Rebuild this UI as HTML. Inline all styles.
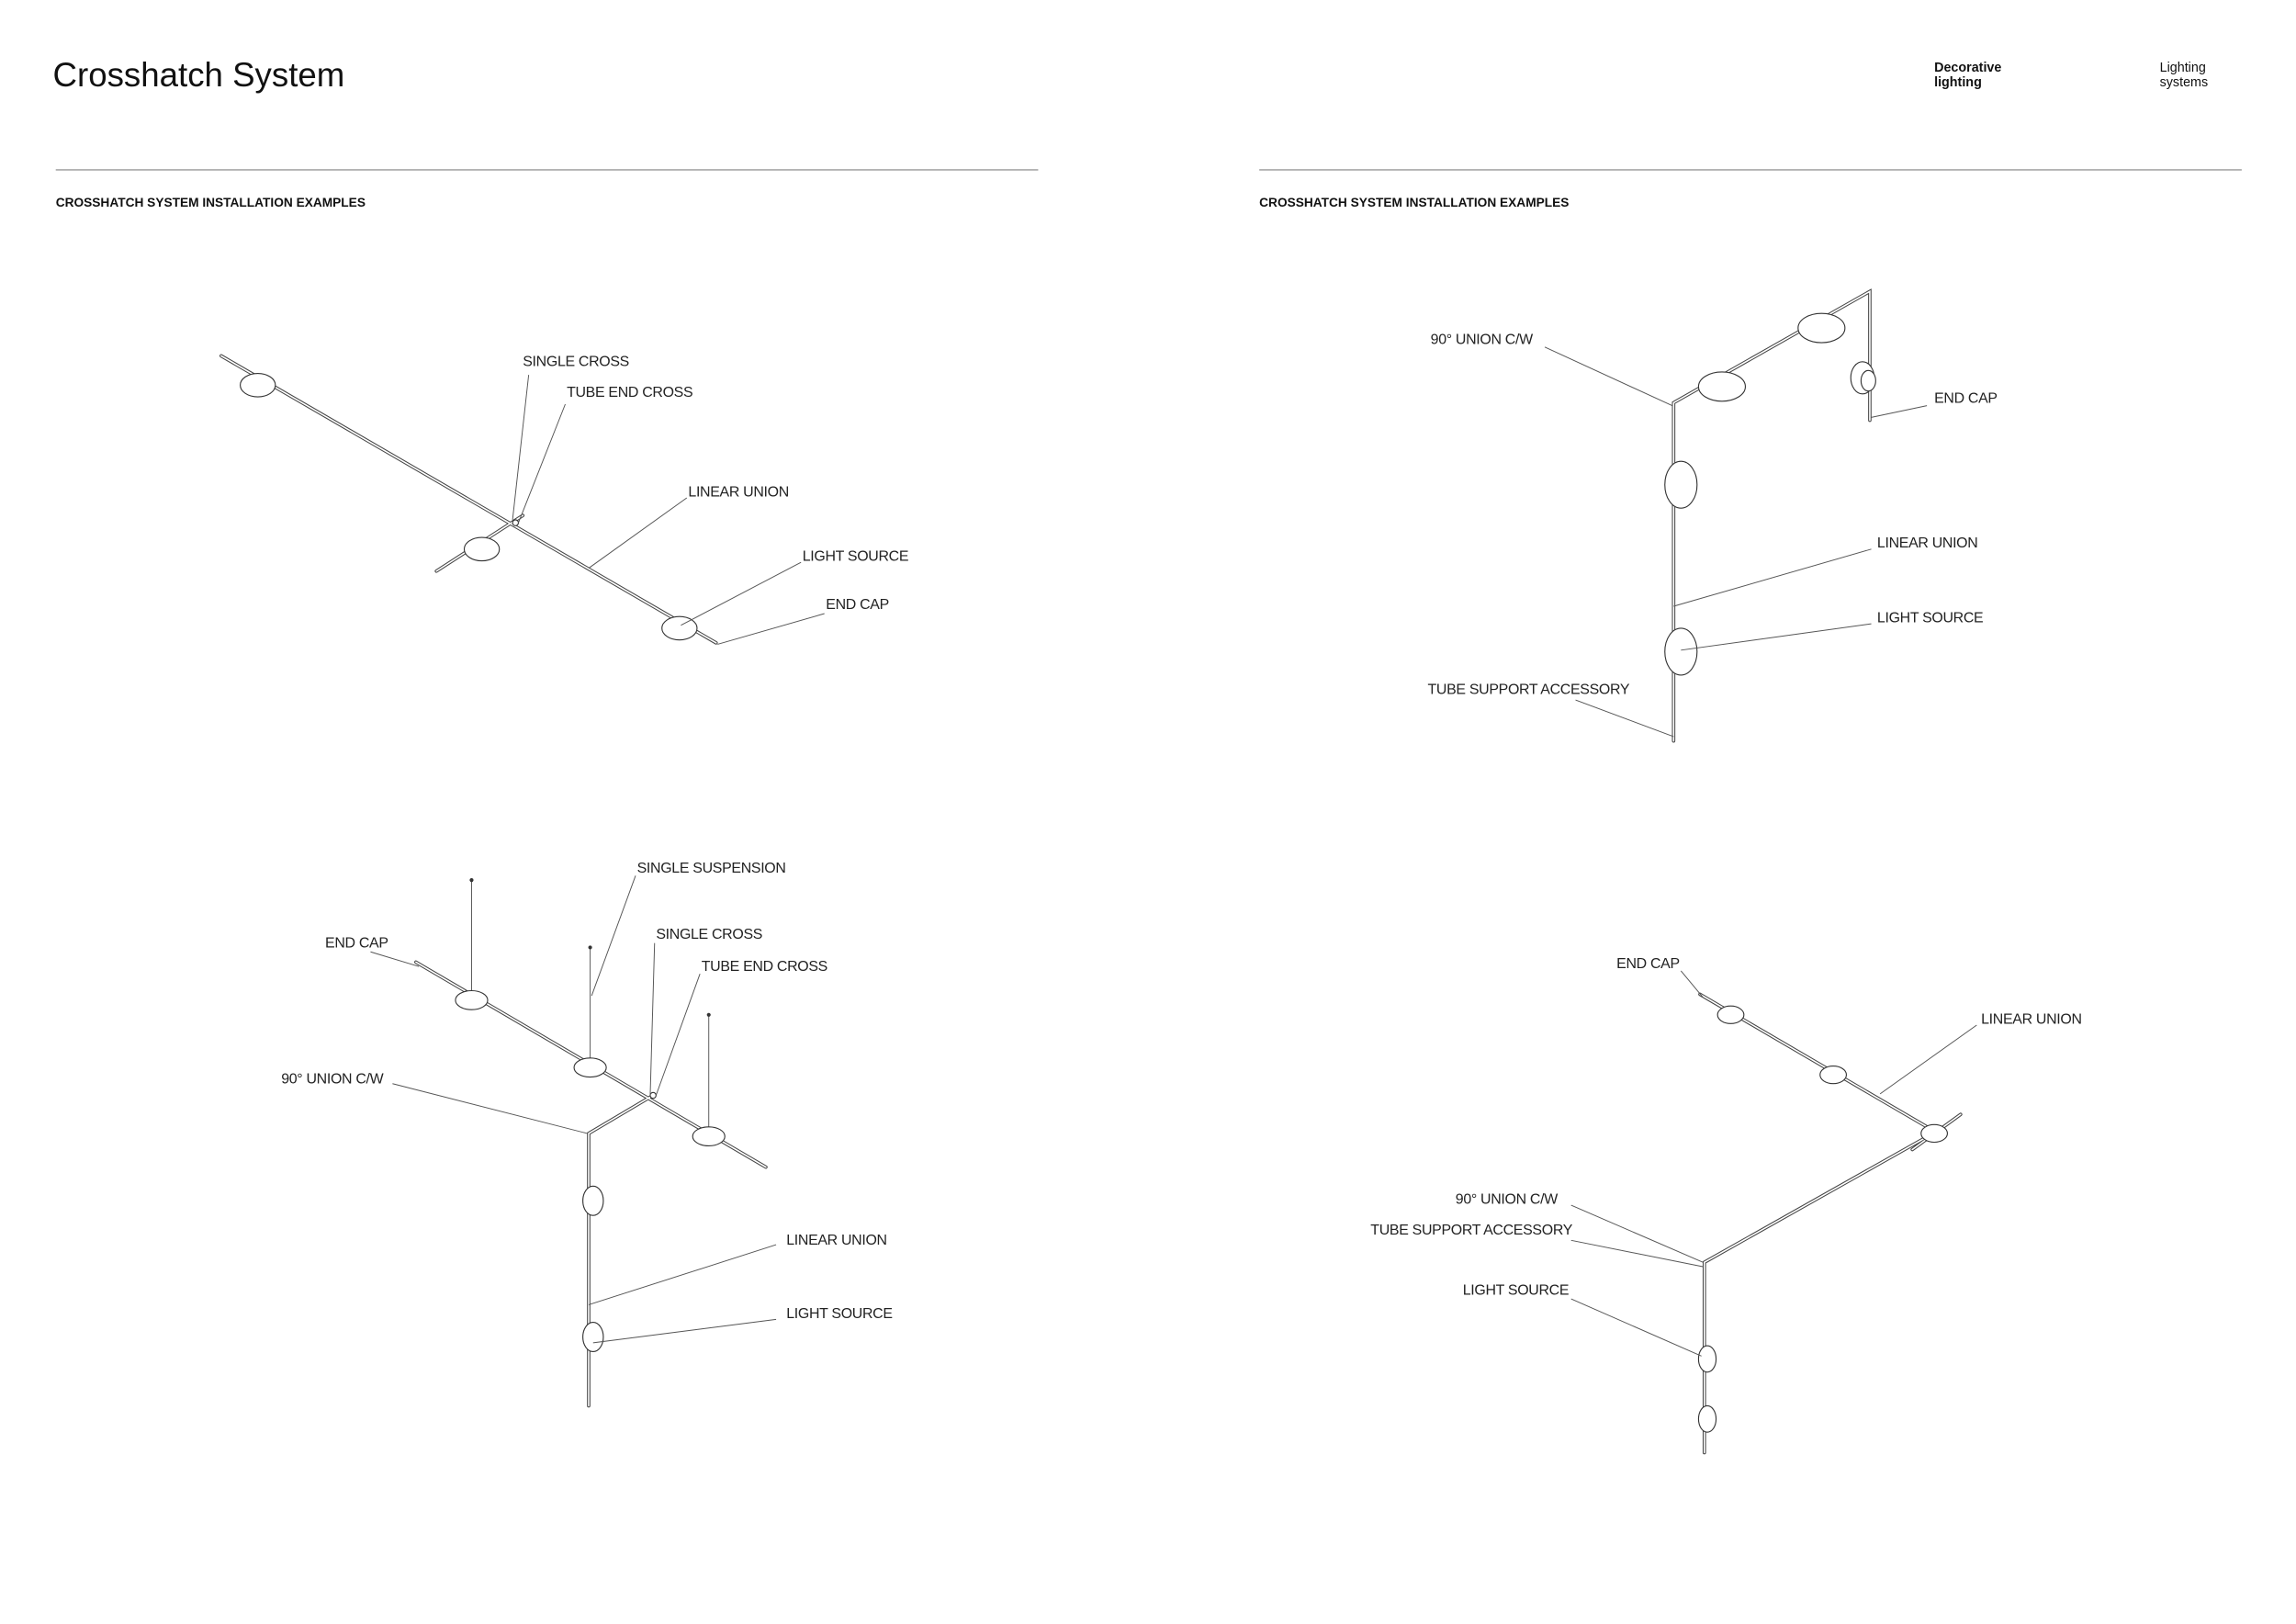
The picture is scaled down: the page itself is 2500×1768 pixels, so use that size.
<!DOCTYPE html>
<html><head><meta charset="utf-8"><style>
html,body{margin:0;padding:0;background:#fff;}
svg{display:block;}
text{font-family:"Liberation Sans",sans-serif;fill:#111;}
.l{font-size:10px;letter-spacing:-0.2px;fill:#222;}
.t{fill:none;stroke:#444;stroke-width:2.3;stroke-linecap:round;}
.ti{fill:none;stroke:#fff;stroke-width:1.0;stroke-linecap:round;}
.ld{fill:none;stroke:#555;stroke-width:0.6;}
.e{fill:#fff;stroke:#333;stroke-width:0.7;}
</style></head><body>
<svg width="2500" height="1768" viewBox="0 0 1568 1109" xmlns="http://www.w3.org/2000/svg">
<rect width="1568" height="1109" fill="#fff"/>
<text x="36" y="59" font-size="23" fill="#222">Crosshatch System</text>
<text x="1321" y="49" font-size="9" font-weight="bold">Decorative</text>
<text x="1321" y="59" font-size="9" font-weight="bold">lighting</text>
<text x="1475" y="49" font-size="9">Lighting</text>
<text x="1475" y="59" font-size="9">systems</text>
<line x1="38" y1="116" x2="709" y2="116" stroke="#999" stroke-width="0.9"/>
<line x1="860" y1="116" x2="1531" y2="116" stroke="#999" stroke-width="0.9"/>
<text x="38" y="141" font-size="8.6" font-weight="bold">CROSSHATCH SYSTEM INSTALLATION EXAMPLES</text>
<text x="860" y="141" font-size="8.6" font-weight="bold">CROSSHATCH SYSTEM INSTALLATION EXAMPLES</text>

<!-- Diagram 1 -->
<g>
<path class="t" d="M151 243 L489 439 M298 390 L357 352"/>
<path class="ti" d="M151 243 L489 439 M298 390 L357 352"/>
<ellipse class="e" cx="176" cy="263" rx="12" ry="8"/>
<ellipse class="e" cx="329" cy="375" rx="12" ry="8"/>
<ellipse class="e" cx="464" cy="429" rx="12" ry="8"/>
<circle class="e" cx="352" cy="357" r="2"/>
<path class="ld" d="M361 256 L350 355 M386 276 L354 357 M469 340 L402 388 M547 384 L465 427 M563 419 L490 440"/>
<text class="l" x="357" y="250">SINGLE CROSS</text>
<text class="l" x="387" y="271">TUBE END CROSS</text>
<text class="l" x="470" y="339">LINEAR UNION</text>
<text class="l" x="548" y="383">LIGHT SOURCE</text>
<text class="l" x="564" y="416">END CAP</text>
</g>

<!-- Diagram 2 -->
<g>
<path class="ld" d="M322 601 L322 683 M403 647 L403 729 M484 693 L484 776" stroke-width="0.9"/>
<circle cx="322" cy="601" r="1.3" fill="#333"/><circle cx="403" cy="647" r="1.3" fill="#333"/><circle cx="484" cy="693" r="1.3" fill="#333"/>
<path class="t" d="M284 657 L523 797 M446 748 L402 774 L402 960"/>
<path class="ti" d="M284 657 L523 797 M446 748 L402 774 L402 960"/>
<ellipse class="e" cx="322" cy="683" rx="11" ry="6.5"/>
<ellipse class="e" cx="403" cy="729" rx="11" ry="6.5"/>
<ellipse class="e" cx="484" cy="776" rx="11" ry="6.5"/>
<ellipse class="e" cx="405" cy="820" rx="7" ry="10"/>
<ellipse class="e" cx="405" cy="913" rx="7" ry="10"/>
<circle class="e" cx="446" cy="748" r="2"/>
<path class="ld" d="M434 598 L404 680 M447 644 L444 748 M478 665 L448 748 M253 650 L286 660 M268 740 L401 774 M530 850 L402 891 M530 901 L405 917"/>
<text class="l" x="435" y="596">SINGLE SUSPENSION</text>
<text class="l" x="448" y="641">SINGLE CROSS</text>
<text class="l" x="479" y="663">TUBE END CROSS</text>
<text class="l" x="222" y="647">END CAP</text>
<text class="l" x="192" y="740">90° UNION C/W</text>
<text class="l" x="537" y="850">LINEAR UNION</text>
<text class="l" x="537" y="900">LIGHT SOURCE</text>
</g>

<!-- Diagram 3 -->
<g>
<path class="t" d="M1143 506 L1143 275 L1277 199 L1277 287" stroke-width="2.8"/>
<path class="ti" d="M1143 506 L1143 275 L1277 199 L1277 287" stroke-width="1.2"/>
<ellipse class="e" cx="1176" cy="264" rx="16" ry="10"/>
<ellipse class="e" cx="1244" cy="224" rx="16" ry="10"/>
<ellipse class="e" cx="1148" cy="331" rx="11" ry="16"/>
<ellipse class="e" cx="1148" cy="445" rx="11" ry="16"/>
<ellipse class="e" cx="1272" cy="258" rx="8" ry="11"/>
<ellipse class="e" cx="1276" cy="260" rx="5" ry="7"/>
<path class="ld" d="M1055 237 L1142 277 M1316 277 L1278 285 M1278 375 L1143 414 M1278 426 L1148 444 M1076 478 L1143 503"/>
<text class="l" x="977" y="235">90° UNION C/W</text>
<text class="l" x="1321" y="275">END CAP</text>
<text class="l" x="1282" y="374">LINEAR UNION</text>
<text class="l" x="1282" y="425">LIGHT SOURCE</text>
<text class="l" x="975" y="474">TUBE SUPPORT ACCESSORY</text>
</g>

<!-- Diagram 4 -->
<g>
<path class="t" d="M1161 679 L1322 773 M1306 785 L1339 761 M1322 773 L1164 862 L1164 992"/>
<path class="ti" d="M1161 679 L1322 773 M1306 785 L1339 761 M1322 773 L1164 862 L1164 992"/>
<ellipse class="e" cx="1182" cy="693" rx="9" ry="6"/>
<ellipse class="e" cx="1252" cy="734" rx="9" ry="6"/>
<ellipse class="e" cx="1321" cy="774" rx="9" ry="6"/>
<ellipse class="e" cx="1166" cy="928" rx="6" ry="9"/>
<ellipse class="e" cx="1166" cy="969" rx="6" ry="9"/>
<path class="ld" d="M1148 663 L1163 681 M1350 700 L1284 747 M1073 823 L1163 862 M1073 847 L1163 865 M1073 887 L1162 926"/>
<text class="l" x="1104" y="661">END CAP</text>
<text class="l" x="1353" y="699">LINEAR UNION</text>
<text class="l" x="994" y="822">90° UNION C/W</text>
<text class="l" x="936" y="843">TUBE SUPPORT ACCESSORY</text>
<text class="l" x="999" y="884">LIGHT SOURCE</text>
</g>
</svg>
</body></html>
